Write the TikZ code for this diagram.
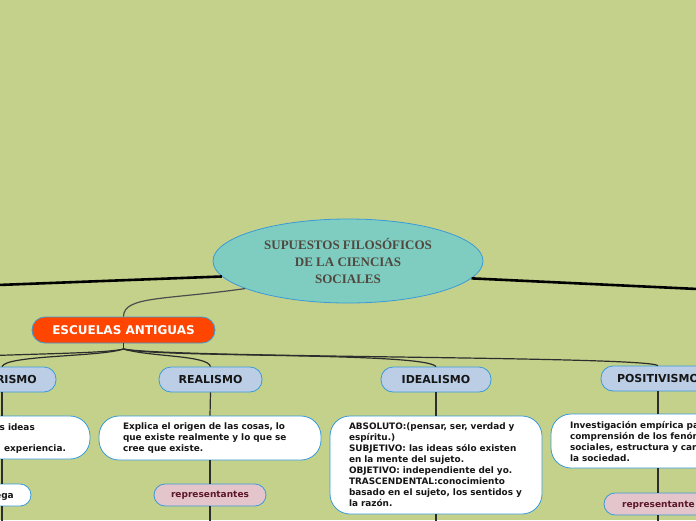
\documentclass[tikz,border=0pt]{standalone}
\usepackage{fontspec}
\setmainfont{DejaVu Sans}
\newfontfamily\titlefont{Liberation Serif}
\usetikzlibrary{shapes.geometric}
\definecolor{bgc}{RGB}{195,209,139}
\definecolor{bdr}{RGB}{58,154,217}
\definecolor{tealfill}{RGB}{127,205,193}
\definecolor{titletxt}{RGB}{80,72,62}
\definecolor{orangefill}{RGB}{255,69,0}
\definecolor{childfill}{RGB}{187,206,230}
\definecolor{pinkfill}{RGB}{229,197,204}
\definecolor{maroon}{RGB}{92,22,42}
\definecolor{txt}{RGB}{22,22,22}
\definecolor{linec}{RGB}{45,45,45}
\tikzset{
 conn/.style={draw=linec, line width=1.2pt},
 trunk/.style={draw=black, line width=2.6pt},
 childbox/.style={draw=bdr, fill=childfill, line width=0.8pt, rounded corners=12pt, minimum height=25pt, inner sep=0pt, font=\fontsize{11}{13}\selectfont\bfseries, text=txt},
 descbox/.style={draw=bdr, fill=white, line width=0.8pt, rounded corners=20pt, align=left, inner ysep=0pt, font=\fontsize{8.9}{11}\selectfont\bfseries, text=txt},
 repbox/.style={draw=bdr, fill=pinkfill, line width=0.8pt, rounded corners=11pt, minimum height=22pt, inner sep=0pt, font=\fontsize{9}{11}\selectfont\bfseries, text=maroon},
 whitepill/.style={draw=bdr, fill=white, line width=0.8pt, rounded corners=11pt, minimum height=22pt, inner sep=0pt},
 frag/.style={inner sep=0pt, font=\fontsize{8.9}{11}\selectfont\bfseries, text=txt},
}
\begin{document}
\begin{tikzpicture}[x=1pt,y=-1pt]
\useasboundingbox (0,0) rectangle (696,520);
\clip (0,0) rectangle (696,520);
\fill[bgc] (0,0) rectangle (696,520);

% central node
\node[ellipse, draw=bdr, fill=tealfill, line width=0.8pt, minimum width=270pt, minimum height=84pt, inner sep=0pt,
      align=center, text=titletxt, font=\titlefont\bfseries\fontsize{13}{17}\selectfont] (root) at (348,261)
  {SUPUESTOS FILOSÓFICOS\\DE LA CIENCIAS\hspace*{12pt}\\SOCIALES};

% off-canvas ends
\coordinate (leftend) at (-10,285.3);
\coordinate (rightend) at (706,289.4);

% escuelas antiguas
\node[draw=bdr, fill=orangefill, line width=0.8pt, rounded corners=13pt, minimum width=183pt, minimum height=26pt,
      inner sep=0pt, text=white, font=\fontsize{12}{14}\selectfont\bfseries] (esc) at (123.5,330) {ESCUELAS ANTIGUAS};
\coordinate (stem) at (123.5,349);
\coordinate (farleft) at (-180,368);

% children
\node[childbox, minimum width=108pt] (emp) at (2,379.5) {};
\node[frag, anchor=base east, font=\fontsize{11}{13}\selectfont\bfseries] (emptxt) at (37,383.5) {RISMO};
\node[childbox, minimum width=103pt] (real) at (210.5,379.5) {REALISMO};
\node[childbox, minimum width=110pt] (ideal) at (436,379.5) {IDEALISMO};
\node[childbox, minimum width=114pt] (posi) at (658,378.5) {POSITIVISMO};

% description boxes
\node[descbox, text width=174pt, inner xsep=24pt, minimum height=43pt] (ebox) at (-21,437.5) {};
\node[frag, anchor=base east] (etxt1) at (35,430.5) {s ideas};
\node[frag, anchor=base west] (etxt2) at (4,451.5) {experiencia.};

\node[descbox, text width=174pt, inner xsep=24pt, minimum height=44pt] (rbox) at (210,438)
  {Explica el origen de las cosas, lo\\que existe realmente y lo que se\\cree que existe.};

\node[descbox, text width=174pt, inner xsep=19pt, minimum height=98pt] (ibox) at (436,465)
  {ABSOLUTO:(pensar, ser, verdad y\\espíritu.)\\SUBJETIVO: las ideas sólo existen\\en la mente del sujeto.\\OBJETIVO: independiente del yo.\\TRASCENDENTAL:conocimiento\\basado en el sujeto, los sentidos y\\la razón.};

\node[descbox, text width=174pt, inner xsep=19pt, minimum height=54pt] (pbox) at (657,441)
  {Investigación empírica pa\\comprensión de los fenóm\\sociales, estructura y car\\la sociedad.};

% representantes
\node[whitepill, minimum width=58pt] (esmall) at (2,495) {};
\node[frag, anchor=base east, font=\fontsize{9}{11}\selectfont\bfseries] (esmtxt) at (14,498.3) {ega};
\node[repbox, minimum width=112pt] (rrep) at (210,495) {representantes};
\node[repbox, minimum width=108pt] (prep) at (658,504) {};
\node[frag, anchor=base west, text=maroon, font=\fontsize{9}{11}\selectfont\bfseries] (preptxt) at (622,507.3) {representante};

\coordinate (edown) at (2,530);
\coordinate (rdown) at (210,530);
\coordinate (idown) at (436,530);
\coordinate (pdown) at (658,530);

% connectors
\draw[trunk] (root.187.7) -- (leftend);
\draw[trunk] (root.-8.4) -- (rightend);
\draw[conn, draw=linec!85] (root.195.5) .. controls (165,300) and (123.5,296) .. (esc.north);
\draw[conn] (esc.south) -- (stem);
\draw[conn] (stem) .. controls (95,356) and (-60,352) .. (farleft);
\draw[conn] (stem) .. controls (100,357) and (6,355) .. (emp.north);
\draw[conn] (stem) .. controls (150,357) and (208,355) .. (real.north);
\draw[conn] (stem) .. controls (160,358) and (425,352) .. (ideal.north);
\draw[conn] (stem) .. controls (170,358) and (645,356) .. (posi.north);

\draw[conn] (emp.south) -- (emp.south |- ebox.north);
\draw[conn] (emp.south |- ebox.south) -- (emp.south |- esmall.north);
\draw[conn] (esmall.south) -- (edown);
\draw[conn] (real.south) -- (rbox.north);
\draw[conn] (rbox.south) -- (rrep.north);
\draw[conn] (rrep.south) -- (rdown);
\draw[conn] (ideal.south) -- (ibox.north);
\draw[conn] (ibox.south) -- (idown);
\draw[conn] (posi.south) -- (posi.south |- pbox.north);
\draw[conn] (posi.south |- pbox.south) -- (prep.north);
\draw[conn] (prep.south) -- (pdown);
\end{tikzpicture}
\end{document}
